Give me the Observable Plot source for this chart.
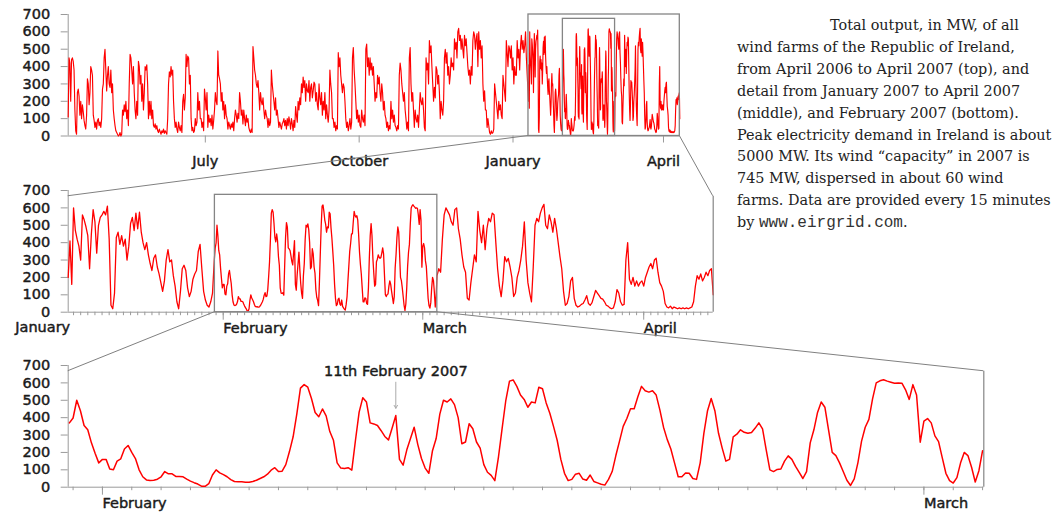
<!DOCTYPE html>
<html>
<head>
<meta charset="utf-8">
<script src="https://cdn.jsdelivr.net/npm/d3@7"></script>
<script src="https://cdn.jsdelivr.net/npm/@observablehq/plot@0.6"></script>
<style>
  html, body { margin: 0; padding: 0; background: #fff; }
  #page { position: relative; width: 1054px; height: 516px; overflow: hidden; }
  .panel { position: absolute; left: 0; }
  .panel svg { overflow: visible; }
  #links { position: absolute; left: 0; top: 0; pointer-events: none; }
  #note {
    position: absolute; left: 737px; top: 15px;
    font-family: "DejaVu Serif", serif; font-size: 14.4px; line-height: 21.9px;
    color: #222; white-space: nowrap;
  }
  #note .first { padding-left: 93px; }
  #note code { font-family: "Liberation Mono", monospace; font-size: 16px; color: #333; }
</style>
</head>
<body>
<div id="page">
  <div id="top" class="panel" style="top:0px"></div>
  <div id="middle" class="panel" style="top:175px"></div>
  <div id="bottom" class="panel" style="top:340px"></div>
  <div id="note">
    <span class="first">Total output, in MW, of all</span><br>
    wind farms of the Republic of Ireland,<br>
    from April 2006 to April 2007 (top), and<br>
    detail from January 2007 to April 2007<br>
    (middle), and February 2007 (bottom).<br>
    Peak electricity demand in Ireland is about<br>
    5000 MW. Its wind “capacity” in 2007 is<br>
    745 MW, dispersed in about 60 wind<br>
    farms. Data are provided every 15 minutes<br>
    by <code>www.eirgrid.com</code>.
  </div>
  <svg id="links" width="1054" height="516"></svg>
</div>
<script>
// Irish wind output (MW), 10 April 2006 00:00 – 9 January 2007 12:00, one value every 12 hours
const out2006 = [
  110, 450, 420, 200, 440, 450, 430, 380,
  150, 30, 10,
  250, 270, 230, 120,
  200, 100, 180,
  140, 90, 60, 40,
  120, 330, 300, 180,
  250, 400, 380, 350, 120,
  90, 50, 80, 40,
  90, 100, 60, 80,
  50, 100, 270, 300,
  450, 500, 380,
  260, 350, 400, 300, 280,
  380, 250, 300, 150,
  100, 60, 30, 20,
  10, 0, 5, 20, 0, 10,
  150, 120, 180, 140,
  200, 100, 150, 60,
  300, 470, 450, 380,
  300, 400, 250, 150,
  100, 200, 120, 430, 400, 300,
  350, 200, 300, 150,
  250, 400, 380, 410,
  300, 100, 200, 120,
  200, 100, 150, 60,
  50, 70, 40, 60,
  30, 20, 40, 25, 10, 30, 20, 40, 15, 30, 20, 10,
  100, 300, 370, 340,
  400, 350, 380, 200,
  100, 50, 80, 40,
  20, 80, 50, 30, 60, 20,
  200, 240, 150, 220,
  470, 400, 460, 450, 300, 350,
  100, 30, 50, 20,
  30, 100, 60, 80,
  250, 150, 200, 100,
  100, 50, 80, 30,
  270, 220, 150, 250,
  50, 120, 80, 100, 60, 120, 40, 90,
  150, 250, 200, 180,
  490, 350,
  330, 300, 200, 250,
  150, 200, 100, 180, 120, 100,
  40, 80, 60, 40, 70, 50, 80, 30,
  100, 150, 120, 80, 130, 100,
  250, 200, 120, 150,
  70, 150, 100, 60, 120, 80, 100, 50,
  30, 20, 40, 20,
  515, 450,
  380, 350, 300, 280, 320, 250,
  150, 250, 200, 180, 220, 150,
  100, 150, 120, 100,
  50, 100, 60, 80,
  380, 300,
  250, 200, 150, 220, 120, 150,
  100, 50, 80, 60, 40, 70,
  80, 100, 60, 90, 40, 100,
  60, 110, 80, 40, 100, 70, 30, 90,
  50, 170, 120, 80,
  200, 150, 220, 180,
  300, 250, 340, 280, 320, 200, 300, 260,
  250, 320, 200, 280, 300, 220, 260, 310,
  300, 200, 250, 180,
  150, 300, 220, 180, 250, 120, 200, 150,
  250, 100, 180, 120, 80, 150,
  380, 300, 250, 100,
  100, 50, 80, 30, 60, 40,
  480, 400, 450, 350, 300,
  250, 300, 280, 200,
  100, 50, 80, 30, 60, 100, 40, 80,
  450, 510, 380, 300,
  200, 100, 150, 80, 120, 60,
  50, 150, 100, 80, 120, 60,
  500, 530, 400, 450,
  350, 450, 380, 420, 350, 400,
  300, 200, 250, 220,
  350, 300, 340, 250, 200, 300,
  250, 150, 200, 120,
  100, 50, 80, 30, 60, 40,
  200, 100, 150, 80, 120, 60,
  50, 30, 60, 40,
  350, 420, 380, 300,
  250, 200, 250, 150,
  100, 40, 80, 30,
  450, 510,
  300, 200, 250, 150,
  50, 150, 100, 80, 120, 50,
  150, 250, 200, 180, 220, 150,
  50, 30,
  450, 380, 420, 300,
  550, 480, 520, 400,
  300, 200, 280, 220,
  400, 380, 300, 350,
  250, 100, 200, 150, 120, 200,
  450, 500, 420, 480,
  350, 400, 300, 350,
  450, 400, 420, 380,
  560, 500, 540, 450,
  600, 620, 550, 580, 500, 560,
  500, 450, 580, 520, 560, 480,
  400, 350, 380, 300, 400, 350,
  550, 600, 580, 500, 560, 590,
  400, 600, 500, 550, 450, 520,
  300, 200, 260, 150,
  150, 50, 100, 60,
  20, 10, 30, 15, 20, 40,
  300, 250, 200, 150,
  100, 200, 150, 180, 120, 100,
  350, 300, 250, 200,
  550, 480, 400, 520,
  500, 450, 520, 380,
  450, 300, 400, 350,
  350, 550, 450, 500, 380, 520,
  580, 500, 550, 480, 520, 600,
  450, 350
];

// 10 January 2007 06:00 – 30 January 18:00, every 6 hours
const outJan2007 = [
  200, 410, 160, 600, 470, 420, 380, 300, 560, 530,
  490, 440, 250, 450, 590, 520, 340, 500, 545, 560,
  580, 560, 610, 420, 40, 20, 110, 430, 460, 390,
  440, 380, 420, 300, 380, 510, 545, 470, 570, 480,
  575, 460, 400, 360, 400, 330, 280, 240, 310, 330,
  260, 220, 170, 120, 180, 300, 360, 290, 300, 210,
  150, 60, 20, 120, 250, 270, 240, 140, 90, 120,
  190, 220, 240, 350, 390, 250, 120, 70, 40, 30,
  60, 110, 300
];

// 30 January 2007 21:00 – 3 March 00:00, every 3 hours
const outFeb2007 = [
  370, 398, 500, 440, 355, 330, 255, 195, 140, 160,
  160, 105, 100, 150, 163, 220, 240, 200, 165, 100,
  60, 42, 38, 40, 46, 60, 90, 77, 77, 62,
  62, 60, 47, 35, 26, 18, 6, 5, 20, 70,
  100, 82, 72, 60, 44, 33, 31, 32, 29, 29,
  33, 40, 50, 60, 75, 98, 112, 90, 92, 130,
  205, 290, 420, 570, 590, 575, 510, 430, 405, 450,
  410, 320, 270, 140, 110, 108, 112, 98, 270, 432,
  515, 490, 370, 364, 355, 325, 292, 272, 340, 412,
  160, 127, 215, 280, 345, 245, 165, 110, 80, 210,
  280, 420, 500, 490, 508, 475, 400, 250, 260, 365,
  336, 260, 225, 130, 86, 68, 38, 175, 340, 500,
  610, 617, 580, 530, 505, 460, 490, 485, 575, 566,
  485, 425, 350, 270, 160, 80, 38, 45, 75, 80,
  47, 40, 70, 33, 25, 17, 12, 45, 90, 182,
  265, 350, 395, 451, 451, 520, 580, 555, 547, 555,
  530, 445, 345, 275, 220, 140, 60, 60, 82, 80,
  50, 45, 140, 310, 440, 510, 440, 310, 225, 150,
  160, 290, 305, 330, 316, 310, 315, 340, 370, 336,
  215, 100, 90, 102, 105, 150, 180, 160, 120, 85,
  50, 90, 255, 330, 430, 490, 460, 330, 200, 182,
  140, 90, 40, 10, 48, 140, 265, 345, 390, 508,
  600, 612, 618, 610, 604, 598, 600, 598, 560, 505,
  590, 530, 259, 380, 395, 370, 295, 262, 170, 80,
  38, 24, 55, 140, 200, 182, 115, 30, 95, 210
];

// 3 March 2007 06:00 – 10 April 18:00, every 6 hours
const outMarApr2007 = [
  250, 230, 420, 560, 600, 580, 560, 520, 500, 590,
  600, 480, 420, 330, 260, 230, 80, 70, 170, 250,
  330, 290, 580, 470, 400, 500, 360, 480, 540, 520,
  570, 560, 400, 250, 150, 90, 180, 320, 290, 310,
  260, 200, 90, 110, 200, 240, 300, 380, 520, 300,
  170, 110, 60, 260, 500, 540, 520, 570, 600, 620,
  500, 480, 560, 520, 460, 540, 480, 400, 320, 250,
  120, 40, 50, 90, 180, 200, 80, 40, 30, 35,
  45, 50, 70, 95, 50, 40, 55, 90, 125, 110,
  95, 80, 75, 60, 40, 35, 25, 20, 25, 60,
  130, 110, 60, 40, 45, 300, 400, 190, 160, 200,
  150, 180, 150, 170, 180, 150, 200, 230, 260, 280,
  250, 300, 310, 230, 170, 150, 120, 50, 30, 25,
  35, 20, 30, 25, 20, 25, 20, 25, 20, 25,
  20, 25, 30, 60, 150, 210, 190, 220, 180, 200,
  230, 210, 240, 250, 100
];

const yTicks = [0, 100, 200, 300, 400, 500, 600, 700];
const yearMonthTicks = [Date.UTC(2006, 6, 1), Date.UTC(2006, 9, 1), Date.UTC(2007, 0, 1), Date.UTC(2007, 3, 1)];
const spanMonthTicks = [Date.UTC(2007, 1, 1), Date.UTC(2007, 2, 1), Date.UTC(2007, 3, 1)];
const febMonthTicks = [Date.UTC(2007, 1, 1), Date.UTC(2007, 2, 1)];
const noteDay = Date.UTC(2007, 1, 11);
const noteText = "11th February 2007";

const HOUR = 3600e3;
const series = (start, step, values) =>
  values.map((mw, i) => ({date: new Date(start + i * step * HOUR), mw}));

const s2006 = series(Date.UTC(2006, 3, 10), 12, out2006);
const sJan = series(Date.UTC(2007, 0, 10, 6), 6, outJan2007);
const sFeb = series(Date.UTC(2007, 0, 30, 21), 3, outFeb2007);
const sMarApr = series(Date.UTC(2007, 2, 3, 6), 6, outMarApr2007);
const spanData = [...sJan, ...sFeb, ...sMarApr];
const yearData = [...s2006, ...spanData];

const D = (t) => new Date(t);
const yearDomain = [D(Date.UTC(2006, 3, 10)), D(Date.UTC(2007, 3, 10, 18))];
const spanDomain = [D(Date.UTC(2007, 0, 10, 6)), D(Date.UTC(2007, 3, 10, 18))];
const febDomain = [D(Date.UTC(2007, 0, 30, 20)), D(Date.UTC(2007, 2, 3, 1))];

const GRID = "#9a9a9a";
const BOX = "#858585";
const INK = "#1a1a1a";
const FONT = "'DejaVu Sans', sans-serif";
const fmtMonth = d3.utcFormat("%B");
// slightly heavier tick lettering
const heavy = {textStroke: INK, textStrokeWidth: 0.45};

function panel({data, domain, width, height, mt, mb, mr, lineWidth, marks}) {
  return Plot.plot({
    width, height,
    marginLeft: 67.7, marginRight: mr, marginTop: mt, marginBottom: mb,
    x: {type: "utc", domain},
    y: {domain: [0, 700]},
    style: {fontFamily: FONT, fontSize: "14.5px", color: INK, background: "transparent", overflow: "visible"},
    marks: [
      Plot.ruleY([0], {stroke: GRID}),
      Plot.ruleX([domain[0]], {y1: 0, y2: 700, stroke: GRID}),
      Plot.axisY({ticks: yTicks, tickSize: 7, tickPadding: 11, stroke: GRID, fill: INK, label: null, ...heavy}),
      Plot.lineY(data, {x: "date", y: "mw", stroke: "#ff0000", strokeWidth: lineWidth}),
      ...marks
    ]
  });
}

// Whole year
const yearChart = panel({
  data: yearData, domain: yearDomain, width: 700, height: 175, mt: 14, mb: 39.5, mr: 20.7, lineWidth: 1.15,
  marks: [
    Plot.axisX({ticks: yearMonthTicks.map(D), tickSize: 7, tickPadding: 13, tickFormat: fmtMonth,
      stroke: GRID, fill: INK, label: null, ...heavy}),
    Plot.rect([{x1: spanDomain[0], x2: spanDomain[1], y1: 0, y2: 700}],
      {x1: "x1", x2: "x2", y1: "y1", y2: "y2", fill: "none", stroke: BOX, strokeWidth: 1.3}),
    Plot.rect([{x1: febDomain[0], x2: febDomain[1], y1: 0, y2: 675}],
      {x1: "x1", x2: "x2", y1: "y1", y2: "y2", fill: "none", stroke: BOX, strokeWidth: 1.3})
  ]
});

// January – April 2007
const spanChart = panel({
  data: spanData, domain: spanDomain, width: 730, height: 165, mt: 15, mb: 28.3, mr: 17.3, lineWidth: 1.3,
  marks: [
    Plot.axisX({ticks: d3.utcDay.range(D(Date.UTC(2007, 0, 11)), spanDomain[1]), tickSize: 3.5,
      tickFormat: () => "", stroke: GRID, label: null}),
    Plot.axisX({ticks: spanMonthTicks.map(D), tickSize: 8, tickPadding: 3, textAnchor: "start",
      tickFormat: fmtMonth, stroke: GRID, fill: INK, label: null, ...heavy}),
    Plot.text([{date: spanDomain[0], label: "January"}],
      {x: "date", y: () => 0, text: "label", textAnchor: "end", lineAnchor: "top", dx: 2, dy: 10,
       fill: INK, stroke: INK, strokeWidth: 0.45}),
    Plot.ruleX([spanDomain[1]], {y1: 0, y2: 667, stroke: BOX, strokeWidth: 1.2}),
    Plot.rect([{x1: febDomain[0], x2: febDomain[1], y1: 0, y2: 675}],
      {x1: "x1", x2: "x2", y1: "y1", y2: "y2", fill: "none", stroke: BOX, strokeWidth: 1.3})
  ]
});

// February 2007
const febChart = panel({
  data: sFeb, domain: febDomain, width: 1000, height: 176, mt: 25, mb: 29.3, mr: 16.7, lineWidth: 1.5,
  marks: [
    Plot.axisX({ticks: d3.utcDay.range(D(Date.UTC(2007, 0, 31)), febDomain[1]), tickSize: 3.5,
      tickFormat: () => "", stroke: GRID, label: null}),
    Plot.axisX({ticks: febMonthTicks.map(D), tickSize: 8, tickPadding: 3, textAnchor: "start",
      tickFormat: fmtMonth, stroke: GRID, fill: INK, label: null, ...heavy}),
    Plot.ruleX([febDomain[1]], {y1: 0, y2: 667, stroke: BOX, strokeWidth: 1.2}),
    Plot.arrow([{date: D(noteDay), from: 604, to: 454}],
      {x1: "date", x2: "date", y1: "from", y2: "to", stroke: "#aaa", strokeWidth: 1, headLength: 5}),
    Plot.text([{date: D(noteDay), label: noteText}],
      {x: "date", y: () => 665, text: "label", textAnchor: "middle", fill: INK, stroke: INK, strokeWidth: 0.45})
  ]
});

document.getElementById("top").append(yearChart);
document.getElementById("middle").append(spanChart);
document.getElementById("bottom").append(febChart);

// Zoom connectors drawn with each panel's own scales
const offsets = {year: 0, span: 175, feb: 340};
const px = (chart, off, x, y) => [chart.scale("x").apply(x), off + chart.scale("y").apply(y)];
const links = [
  [px(yearChart, offsets.year, spanDomain[0], 0), px(spanChart, offsets.span, spanDomain[0], 667)],
  [px(yearChart, offsets.year, spanDomain[1], 0), px(spanChart, offsets.span, spanDomain[1], 667)],
  [px(spanChart, offsets.span, febDomain[0], 0), px(febChart, offsets.feb, febDomain[0], 667)],
  [px(spanChart, offsets.span, febDomain[1], 0), px(febChart, offsets.feb, febDomain[1], 667)]
];
d3.select("#links").selectAll("line").data(links).join("line")
  .attr("x1", d => d[0][0]).attr("y1", d => d[0][1])
  .attr("x2", d => d[1][0]).attr("y2", d => d[1][1])
  .attr("stroke", "#808080").attr("stroke-width", 1);
</script>
</body>
</html>
